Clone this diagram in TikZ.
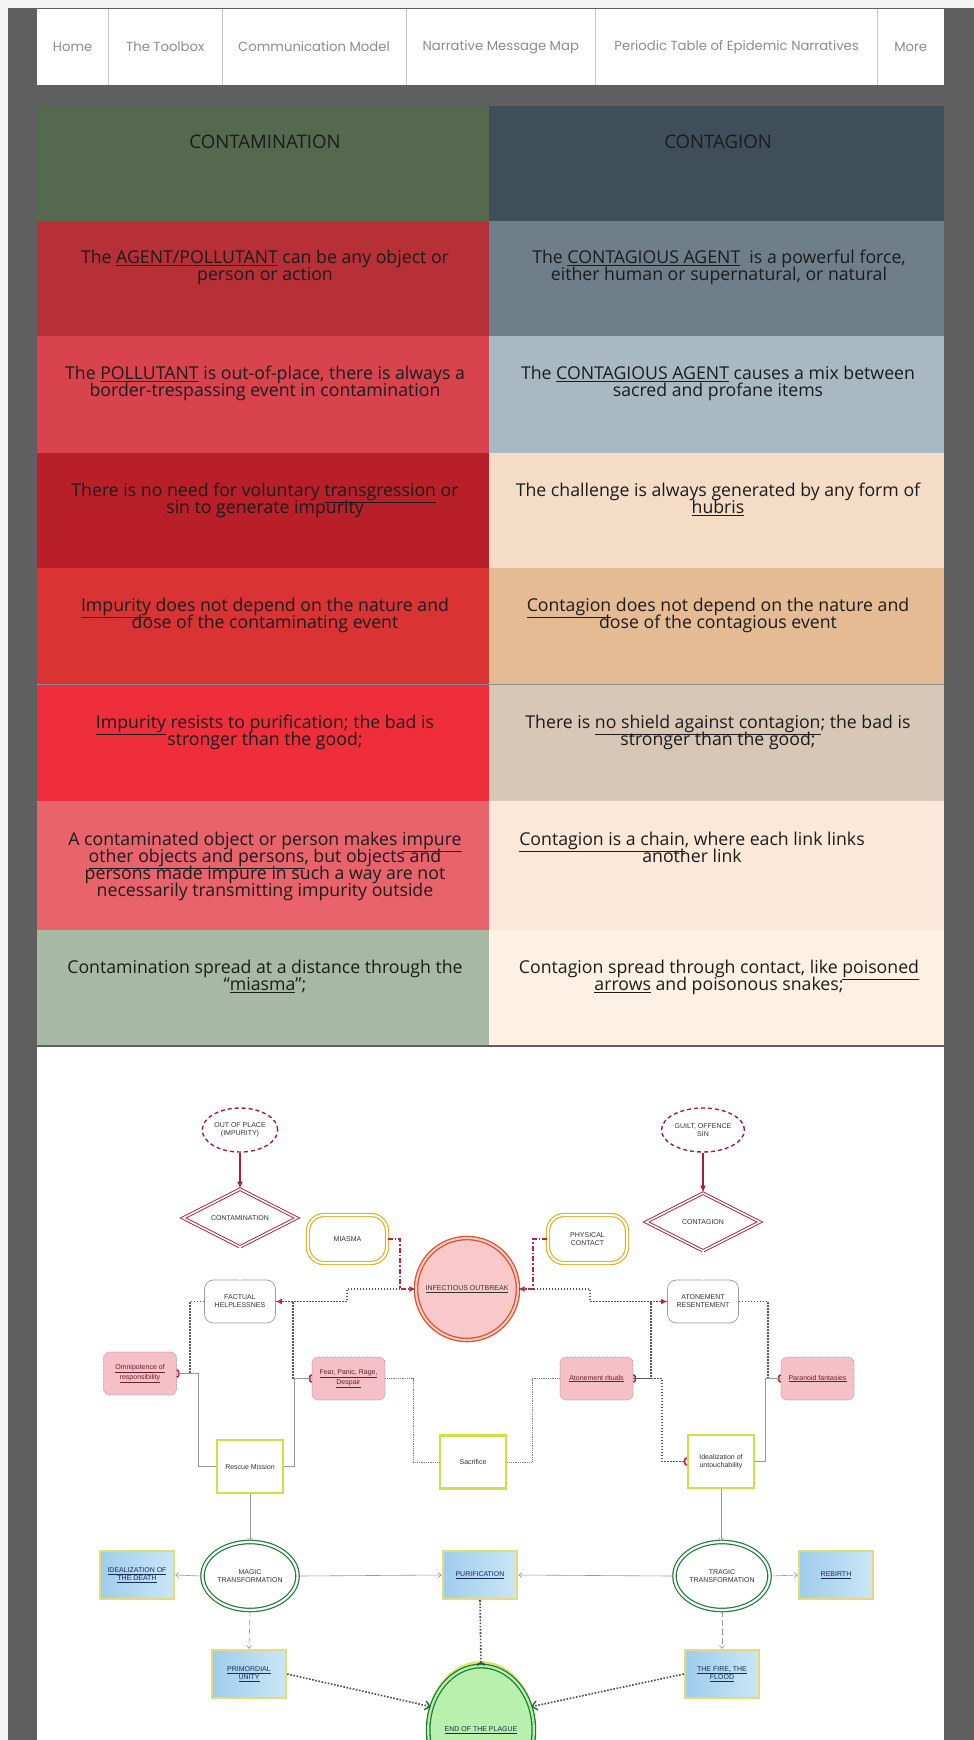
\documentclass[tikz,border=0pt]{standalone}
\usepackage{fontspec}
\setmainfont{Open Sans}
\newfontfamily\navfont{Poppins}
\newfontfamily\dgfont{Liberation Sans}
\usetikzlibrary{shapes.geometric,arrows.meta}

% tight leading for the table cells
\newcommand\celltype{\fontsize{17.7}{17}\selectfont\lineskiplimit=-30pt\relax\lineskip=0pt\relax}

% page and table colours
\definecolor{pagebg}{HTML}{5F5F5F}
\definecolor{frame}{HTML}{F4F4F4}
\definecolor{navtxt}{HTML}{8C8C8C}
\definecolor{navrule}{HTML}{C8C8C8}
\definecolor{hdL}{HTML}{55694E}\definecolor{hdR}{HTML}{3E4F59}
\definecolor{aL}{HTML}{B72F37}\definecolor{aR}{HTML}{6E7F89}
\definecolor{bL}{HTML}{D8434D}\definecolor{bR}{HTML}{A8B9C2}
\definecolor{cL}{HTML}{B81F29}\definecolor{cR}{HTML}{F4DCC7}
\definecolor{dL}{HTML}{D93333}\definecolor{dR}{HTML}{E5BB94}
\definecolor{eL}{HTML}{EE2E3B}\definecolor{eR}{HTML}{D8C6B6}
\definecolor{fL}{HTML}{E8636B}\definecolor{fR}{HTML}{FBE8D8}
\definecolor{gL}{HTML}{A7B8A4}\definecolor{gR}{HTML}{FDF1E4}
\definecolor{tabtxt}{HTML}{1C1C1C}
% diagram colours
\definecolor{crimD}{HTML}{A81E38}
\definecolor{crimS}{HTML}{C8203A}
\definecolor{goldB}{HTML}{E2B12B}
\definecolor{orangeR}{HTML}{D9532A}
\definecolor{pinkF}{HTML}{F9C9C9}
\definecolor{pinkB}{HTML}{F5C0C8}
\definecolor{ygB}{HTML}{D4DC48}
\definecolor{blueL}{HTML}{9FCDEB}
\definecolor{blueR}{HTML}{CBE6F6}
\definecolor{blueB}{HTML}{E3DC78}
\definecolor{greenD}{HTML}{1E7B35}
\definecolor{greenF}{HTML}{B8F0AE}
\definecolor{greyL}{HTML}{9A9A9A}
\definecolor{maroon}{HTML}{6B1F2A}
\definecolor{navy}{HTML}{1A2A5A}

\tikzset{
  navitem/.style={font=\navfont\fontsize{13.2}{15}\selectfont, text=navtxt, inner sep=0pt},
  tcell/.style={anchor=base, align=center, inner sep=0pt, text=tabtxt, font=\celltype},
  thead/.style={tcell, font=\fontsize{18.6}{18}\selectfont},
  dtext/.style={font=\dgfont\fontsize{7}{8}\selectfont, align=center, text=black!80, inner sep=1pt},
  srcell/.style={dtext, ellipse, draw=crimD, line width=1.4pt, dash pattern=on 4pt off 3pt,
    fill=white, minimum width=73pt, minimum height=44pt},
  dia/.style={dtext, diamond, aspect=2, draw=crimD, line width=0.9pt, double=white,
    double distance=1.6pt, fill=white, minimum width=114pt, minimum height=58pt},
  stad/.style={dtext, rectangle, rounded corners=16pt, draw=goldB, line width=1.2pt,
    double=white, double distance=2pt, fill=white, minimum width=79pt, minimum height=48pt},
  outbk/.style={dtext, circle, draw=orangeR, line width=1.3pt, double=pinkF,
    double distance=2pt, fill=pinkF, minimum size=102pt},
  soft/.style={dtext, rectangle, rounded corners=9pt, draw=greyL, line width=0.7pt,
    fill=white, minimum width=71pt, minimum height=43pt},
  pinkbox/.style={dtext, text=maroon, rectangle, rounded corners=6pt, draw=black!45,
    densely dotted, line width=0.6pt, fill=pinkB, minimum width=73pt, minimum height=43pt},
  ybox/.style={dtext, rectangle, draw=ygB, line width=2.6pt, fill=white,
    minimum width=66pt, minimum height=53pt},
  gcirc/.style={dtext, ellipse, draw=greenD, line width=1.2pt, double=white,
    double distance=2.2pt, fill=white, minimum width=90pt, minimum height=68pt},
  bbox/.style={dtext, text=navy, rectangle, draw=blueB, line width=2.4pt,
    left color=blueL, right color=blueR, minimum width=74pt, minimum height=48pt},
  endn/.style={dtext, text=navy, ellipse, draw=greenD, line width=1.3pt, double=greenF,
    double distance=2.2pt, fill=greenF, minimum width=100pt, minimum height=128pt},
  redarrow/.style={draw=crimD, line width=1.6pt, -{Latex[length=7pt,width=6pt]}},
  dbl/.style={draw=black!35, line width=0.5pt, double=white, double distance=1.4pt},
  dashdotred/.style={draw=crimS, line width=1.3pt, dash pattern=on 5pt off 2pt on 1.5pt off 2pt,
    -{Latex[length=6pt,width=6pt]}},
  dotline/.style={draw=black!65, line width=1.5pt, dash pattern=on 1.5pt off 1.5pt},
  redtip/.style={-{Latex[length=6pt,width=6pt,color=crimS]}},
  socket/.style={-{Arc Barb[reversed,length=3pt,width=9pt,line width=1.6pt,color=crimS]}},
  gline/.style={draw=black!40, line width=0.6pt},
  gdot/.style={draw=black!50, line width=0.8pt, densely dotted},
  garrow/.style={gline, -{Straight Barb[length=3pt,width=5pt]}},
  gdash/.style={draw=black!40, line width=0.6pt, dash pattern=on 6pt off 3pt,
    -{Straight Barb[length=3pt,width=5pt]}},
  dotend/.style={draw=black!70, line width=1.6pt, dash pattern=on 1.6pt off 1.6pt},
  greentip/.style={-{Straight Barb[length=5pt,width=9pt,line width=1.5pt,color=greenD]}},
  darksocket/.style={-{Arc Barb[reversed,length=3pt,width=9pt,line width=1.6pt,color=black!75]}}
}

\begin{document}
\begin{tikzpicture}[x=1pt,y=-1pt]
\useasboundingbox (0,0) rectangle (974,1740);
\fill[pagebg] (0,0) rectangle (974,1740);
% light page frame along the top and left edges
\fill[frame] (0,0) rectangle (974,8);
\fill[frame] (0,0) rectangle (8,1740);

% ---------- navigation bar ----------
\fill[white] (36.6,9) rectangle (944,85.4);
\foreach \xx in {108.7,221.9,406,595.7,877.5}
  \draw[navrule, line width=0.8pt] (\xx,9) -- (\xx,85.4);
\node[navitem] (nav1) at (72.6,47) {Home};
\node[navitem] (nav2) at (165.3,47) {The Toolbox};
\node[navitem] (nav3) at (314,47) {Communication Model};
\node[navitem] (nav4) at (500.8,47) {Narrative Message Map};
\node[navitem] (nav5) at (736.6,47) {Periodic Table of Epidemic Narratives};
\node[navitem] (nav6) at (910.7,47) {More};

% ---------- comparison table ----------
\fill[hdL] (36.6,106) rectangle (489,221);
\fill[hdR] (489,106) rectangle (944,221);
\fill[aL] (36.6,221) rectangle (489,336);   \fill[aR] (489,221) rectangle (944,336);
\fill[bL] (36.6,336) rectangle (489,452.6); \fill[bR] (489,336) rectangle (944,452.6);
\fill[cL] (36.6,452.6) rectangle (489,568); \fill[cR] (489,452.6) rectangle (944,568);
\fill[dL] (36.6,568) rectangle (489,684);   \fill[dR] (489,568) rectangle (944,684);
\fill[eL] (36.6,684) rectangle (489,801);   \fill[eR] (489,684) rectangle (944,801);
\fill[fL] (36.6,801) rectangle (489,930);   \fill[fR] (489,801) rectangle (944,930);
\fill[gL] (36.6,930) rectangle (489,1045);  \fill[gR] (489,930) rectangle (944,1045);
\draw[black!45, line width=0.8pt] (36.6,684) -- (944,684);

% multi-line cells are placed by the baseline of their last line
\node[thead] (h1) at (265,148) {CONTAMINATION};
\node[thead] (h2) at (718,148) {CONTAGION};
\node[tcell] (a1) at (265,280.4) {The \underline{AGENT/POLLUTANT} can be any object or\\person or action};
\node[tcell] (a2) at (719,280.4) {The \underline{CONTAGIOUS AGENT}\ \ is a powerful force,\\either human or supernatural, or natural};
\node[tcell] (b1) at (265,396.8) {The \underline{POLLUTANT} is out-of-place, there is always a\\border-trespassing event in contamination};
\node[tcell] (b2) at (718,396.8) {The \underline{CONTAGIOUS AGENT} causes a mix between\\sacred and profane items};
\node[tcell] (c1) at (265,513.3) {There is no need for voluntary \underline{transgression} or\\sin to generate impurity};
\node[tcell] (c2) at (718,513.3) {The challenge is always generated by any form of\\\underline{hubris}};
\node[tcell] (d1) at (265,628.7) {\underline{Impurity} does not depend on the nature and\\dose of the contaminating event};
\node[tcell] (d2) at (718,628.7) {\underline{Contagion} does not depend on the nature and\\dose of the contagious event};
\node[tcell] (e1) at (265,745.2) {\underline{Impurity} resists to purification; the bad is\\stronger than the good;};
\node[tcell] (e2) at (718,745.2) {There is \underline{no shield against contagion}; the bad is\\stronger than the good;};
\node[tcell] (f1) at (265,896.8) {A contaminated object or person makes \underline{impure}\\\underline{other objects and persons}, but objects and\\persons made impure in such a way are not\\necessarily transmitting impurity outside};
\node[tcell] (f2) at (692,862.8) {\underline{Contagion is a chain}, where each link links\\another link};
\node[tcell] (g1) at (265,990.3) {Contamination spread at a distance through the\\``\underline{miasma}'';};
\node[tcell] (g2) at (719,990.3) {Contagion spread through contact, like \underline{poisoned}\\\underline{arrows} and poisonous snakes;};

% ---------- concept map ----------
\fill[white] (36.6,1047) rectangle (944,1740);
\begin{scope}
\clip (36.6,1047) rectangle (944,1740);

\node[srcell] (out) at (240,1130) {OUT OF PLACE\\(IMPURITY)};
\node[srcell] (guilt) at (703,1130) {GUILT, OFFENCE\\SIN};
\node[dia] (ctm) at (240,1218) {CONTAMINATION};
\node[dia] (ctg) at (703,1222) {CONTAGION};
\node[stad] (mia) at (347.5,1239) {MIASMA};
\node[stad] (phy) at (587.5,1239) {PHYSICAL\\CONTACT};
\node[outbk] (outb) at (467,1289) {\underline{INFECTIOUS OUTBREAK}};
\node[soft] (fac) at (240,1301.5) {FACTUAL\\HELPLESSNES};
\node[soft] (ato) at (703,1301.5) {ATONEMENT\\RESENTEMENT};
\node[pinkbox] (omni) at (140,1373.5) {\underline{Omnipotence of}\\\underline{responsibility}};
\node[pinkbox] (fear) at (348.5,1378.5) {\underline{Fear, Panic, Rage,}\\\underline{Despair}};
\node[pinkbox] (rit) at (596.5,1378.5) {\underline{Atonement rituals}};
\node[pinkbox] (par) at (817.5,1378.5) {\underline{Paranoid fantasies}};
\node[ybox] (res) at (250,1466.5) {Rescue Mission};
\node[ybox] (sac) at (473,1462) {Sacrifice};
\node[ybox] (ide) at (721,1461.5) {Idealization of\\untouchability};
\node[gcirc] (mag) at (250,1576) {MAGIC\\TRANSFORMATION};
\node[gcirc] (tra) at (722,1576) {TRAGIC\\TRANSFORMATION};
\node[bbox] (ideath) at (137,1575) {\underline{IDEALIZATION OF}\\\underline{THE DEATH}};
\node[bbox] (pur) at (480,1575) {\underline{PURIFICATION}};
\node[bbox] (reb) at (836,1575) {\underline{REBIRTH}};
\node[bbox] (pri) at (249,1674) {\underline{PRIMORDIAL}\\\underline{UNITY}};
\node[bbox] (fir) at (722,1674) {\underline{THE FIRE, THE}\\\underline{FLOOD}};
\draw[ygB!80, line width=4pt] (481,1730) ellipse [x radius=53pt, y radius=67pt];
\node[endn] (end) at (481,1730) {\underline{END OF THE PLAGUE}};

% bend points of the routed connectors
\coordinate (m1) at (400,1289);
\coordinate (p1) at (533,1289);
\coordinate (o1) at (347,1289);
\coordinate (o2) at (590,1289);
\coordinate (q1) at (190,1373.5);
\coordinate (q2) at (293,1378.5);
\coordinate (q3) at (198,1373.5);
\coordinate (q4) at (294,1378.5);
\coordinate (q5) at (413,1378.5);
\coordinate (q6) at (532,1378.5);
\coordinate (q7) at (651,1378.5);
\coordinate (q8) at (662,1378.5);
\coordinate (q9) at (768,1378.5);
\coordinate (q10) at (765,1378.5);

% sources into the two kinds of harm
\draw[redarrow] (out.south) -- (ctm.north);
\draw[redarrow] (guilt.south) -- (ctg.north);
\draw[dbl] (ctm.south) -- (fac.north);
\draw[dbl] (ctg.south) -- (ato.north);

% vectors into the outbreak
\draw[dashdotred] (mia.east) -| (m1) -- (outb.west);
\draw[dashdotred] (phy.west) -| (p1) -- (outb.east);

% outbreak back to the emotional responses
\draw[dotline, redtip] (outb.west) -- (o1) |- (fac.east);
\draw[dotline, redtip] (outb.east) -- (o2) |- (ato.west);

% responses to reactions
\draw[dotline, socket] (fac.west) -| (q1) -- (omni.east);
\draw[dotline, socket] (fac.east) -| (q2) -- (fear.west);
\draw[dotline, socket] (ato.west) -| (q7) -- (rit.east);
\draw[dotline, socket] (ato.east) -| (q9) -- (par.west);
\draw[dotline, socket] (rit.east) -- (q8) |- (ide.west);
\draw[gline] (omni.east) -- (q3) |- (res.west);
\draw[gline] (res.east) -| (q4) -- (fear.west);
\draw[gdot] (fear.east) -- (q5) |- (sac.west);
\draw[gdot] (sac.east) -| (q6) -- (rit.west);
\draw[gline] (ide.east) -| (q10) -- (par.west);

% transformations
\draw[garrow] (res.south) -- (mag.north);
\draw[garrow] (ide.south) -- (ide.south |- tra.north);
\draw[garrow] (mag.west) -- (ideath.east);
\draw[garrow] (mag.east) -- (pur.west);
\draw[garrow] (tra.west) -- (pur.east);
\draw[garrow] (tra.east) -- (reb.west);
\draw[gdash] (mag.south) -- (pri.north);
\draw[gdash] (tra.south) -- (fir.north);

% towards the end of the plague
\draw[dotend, darksocket] (pur.south) -- (end.north);
\draw[dotend, greentip] (pri.east) -- (end.155);
\draw[dotend, greentip] (fir.west) -- (end.25);
\end{scope}
\end{tikzpicture}
\end{document}
